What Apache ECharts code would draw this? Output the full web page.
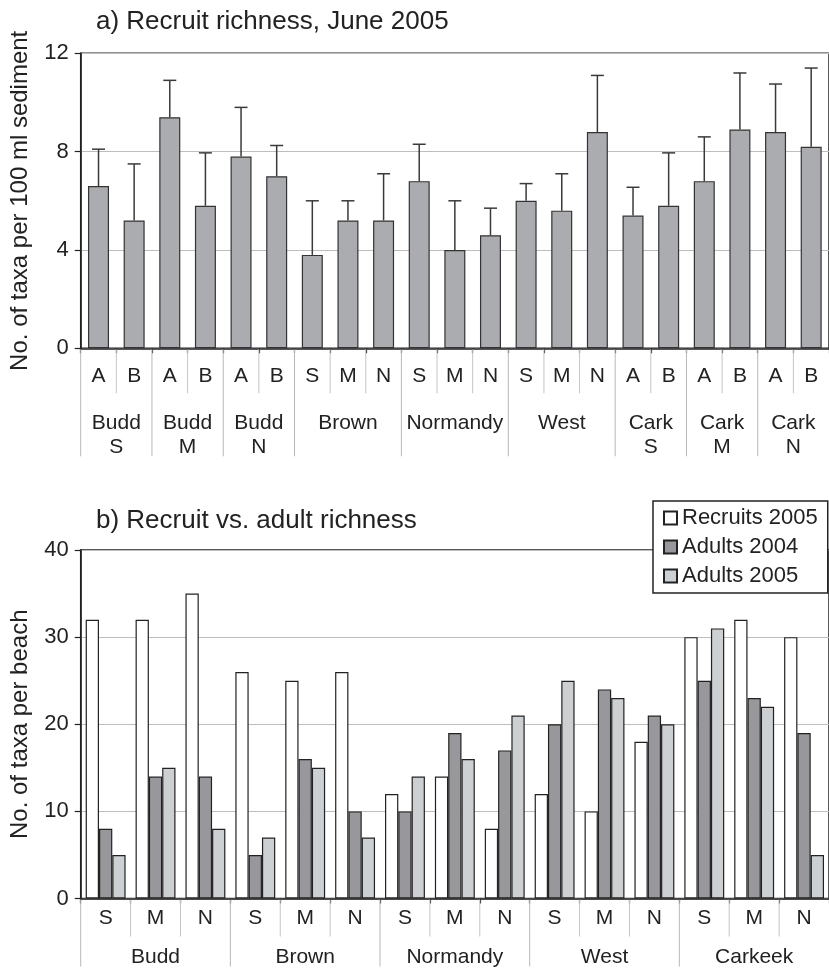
<!DOCTYPE html>
<html>
<head>
<meta charset="utf-8">
<script src="https://cdn.jsdelivr.net/npm/echarts@6/dist/echarts.min.js"></script>
<style>
html,body{margin:0;padding:0;background:#fff;}
#c{width:829px;height:970px;}
</style>
</head>
<body>
<div id="c"></div>
<script>
// ---------- Panel a data ----------
const catsA = ['A','B','A','B','A','B','S','M','N','S','M','N','S','M','N','A','B','A','B','A','B'];
const richnessA = [6.6,5.2,9.4,5.8,7.8,7.0,3.8,5.2,5.2,6.8,4.0,4.6,6.0,5.6,8.8,5.4,5.8,6.8,8.9,8.8,8.2];
const errUpperA = [8.1,7.5,10.9,7.95,9.8,8.25,6.0,6.0,7.1,8.3,6.0,5.7,6.7,7.1,11.1,6.55,7.95,8.6,11.2,10.75,11.4];
const groupLabelsA = ['Budd\nS','Budd\nM','Budd\nN','Brown','Normandy','West','Cark\nS','Cark\nM','Cark\nN'];
const groupSizesA = [2,2,2,3,3,3,2,2,2];
const ticksA = [0,4,8,12];

// ---------- Panel b data ----------
const catsB = ['S','M','N','S','M','N','S','M','N','S','M','N','S','M','N'];
const recruits2005 = [32,32,35,26,25,26,12,14,8,12,10,18,30,32,30];
const adults2004 = [8,14,14,5,16,10,10,19,17,20,24,21,25,23,19];
const adults2005 = [5,15,8,7,15,7,14,16,21,25,23,20,31,22,5];
const groupLabelsB = ['Budd','Brown','Normandy','West','Carkeek'];
const groupSizesB = [3,3,3,3,3];
const ticksB = [0,10,20,30,40];

const FONT = '"Liberation Sans", Arial, Helvetica, sans-serif';
const TXT = '#222';

function groupData(sizes){
  const out = []; let s = 0;
  sizes.forEach(n => { out.push([s, 0, n]); s += n; });
  return out;
}

function makeSeparatorRender(labels, innerLen, outerLen, labelOffset){
  return function(params, api){
    const start = api.value(0), n = api.value(2);
    const bw = api.size([1, 0])[0];
    const p0 = api.coord([start, 0]);
    const y0 = p0[1];
    const children = [];
    const leftX = p0[0] - bw / 2;
    children.push({type:'line', shape:{x1:leftX, y1:y0+1, x2:leftX, y2:y0+outerLen},
      style:{stroke:'#b8b8b8', lineWidth:1}});
    for (let k = 1; k < n; k++){
      const xk = api.coord([start + k, 0])[0] - bw / 2;
      children.push({type:'line', shape:{x1:xk, y1:y0+1, x2:xk, y2:y0+innerLen},
        style:{stroke:'#c4c4c4', lineWidth:1}});
    }
    const cx = (api.coord([start, 0])[0] + api.coord([start + n - 1, 0])[0]) / 2;
    children.push({type:'text', style:{text:labels[params.dataIndex], x:cx, y:y0+labelOffset,
      align:'center', verticalAlign:'top', fontSize:21, lineHeight:24, fontFamily:FONT, fill:TXT}});
    return {type:'group', children};
  };
}

const chart = echarts.init(document.getElementById('c'), null, {renderer:'canvas'});

const yAxisCommon = {
  type:'value', nameLocation:'middle', nameGap:48,
  nameTextStyle:{fontSize:24, fontFamily:FONT, color:TXT},
  axisLine:{show:true, lineStyle:{color:'#222', width:1.5}},
  axisTick:{show:true, inside:false, length:6, lineStyle:{color:'#222', width:1.2}},
  axisLabel:{fontSize:22, fontFamily:FONT, color:TXT, margin:12},
  splitLine:{show:true, lineStyle:{color:'#bdbdbd', width:1.2}}
};

chart.setOption({
  animation:false,
  backgroundColor:'#fff',
  title:[
    {text:'a) Recruit richness, June 2005', left:91, top:4,
     textStyle:{fontSize:26, fontWeight:'normal', fontFamily:FONT, color:TXT}},
    {text:'b) Recruit vs. adult richness', left:91, top:503,
     textStyle:{fontSize:26, fontWeight:'normal', fontFamily:FONT, color:TXT}}
  ],
  legend:{
    show:true, orient:'vertical', left:653, top:501,
    data:['Recruits 2005','Adults 2004','Adults 2005'],
    backgroundColor:'#fff', borderColor:'#222', borderWidth:1.5,
    padding:[6,10,6,10], itemWidth:13, itemHeight:13, itemGap:7,
    icon:'rect',
    textStyle:{fontSize:22, fontFamily:FONT, color:TXT}
  },
  grid:[
    {left:80.7, top:53.3, width:755, height:295, show:true, borderColor:'#222', borderWidth:1.5, backgroundColor:'transparent'},
    {left:80.7, top:550, width:754, height:348.5, show:true, borderColor:'#222', borderWidth:1.5, backgroundColor:'transparent'}
  ],
  xAxis:[
    {type:'category', gridIndex:0, data:catsA,
     axisLine:{show:true, lineStyle:{color:'#222', width:1.5}},
     axisTick:{show:true, interval:0, length:5, lineStyle:{color:'#222', width:1.2}},
     axisLabel:{interval:0, fontSize:21, fontFamily:FONT, color:TXT, margin:17}},
    {type:'category', gridIndex:1, data:catsB,
     axisLine:{show:true, lineStyle:{color:'#222', width:1.5}},
     axisTick:{show:true, interval:0, length:5, lineStyle:{color:'#222', width:1.2}},
     axisLabel:{interval:0, fontSize:21, fontFamily:FONT, color:TXT, margin:9}}
  ],
  yAxis:[
    Object.assign({}, yAxisCommon, {gridIndex:0, min:ticksA[0], max:ticksA[ticksA.length-1], interval:4,
      name:'No. of taxa per 100 ml sediment'}),
    Object.assign({}, yAxisCommon, {gridIndex:1, min:ticksB[0], max:ticksB[ticksB.length-1], interval:10,
      name:'No. of taxa per beach'})
  ],
  series:[
    {type:'bar', name:'Richness', xAxisIndex:0, yAxisIndex:0, data:richnessA, barWidth:21,
     itemStyle:{color:'#abacaf', borderColor:'#333', borderWidth:1.2}},
    {type:'custom', name:'err', xAxisIndex:0, yAxisIndex:0, clip:false, silent:true, z:3,
     data:richnessA.map((v,i)=>[i, v, errUpperA[i]]),
     encode:{x:0, y:[1,2]},
     renderItem:function(params, api){
       const x = api.value(0);
       const p0 = api.coord([x, api.value(1)]);
       const p1 = api.coord([x, api.value(2)]);
       const st = {stroke:'#3a3a3a', lineWidth:1.5};
       return {type:'group', children:[
         {type:'line', shape:{x1:p0[0], y1:p0[1], x2:p1[0], y2:p1[1]}, style:st},
         {type:'line', shape:{x1:p1[0]-6.5, y1:p1[1], x2:p1[0]+6.5, y2:p1[1]}, style:st}
       ]};
     }},
    {type:'custom', name:'sepA', xAxisIndex:0, yAxisIndex:0, clip:false, silent:true,
     data:groupData(groupSizesA), encode:{x:0, y:1},
     renderItem:makeSeparatorRender(groupLabelsA, 45, 108, 63)},
    {type:'bar', name:'Recruits 2005', xAxisIndex:1, yAxisIndex:1, data:recruits2005,
     barGap:'0%', barCategoryGap:'20%',
     itemStyle:{color:'#ffffff', borderColor:'#222', borderWidth:1.2}},
    {type:'bar', name:'Adults 2004', xAxisIndex:1, yAxisIndex:1, data:adults2004,
     barGap:'0%', barCategoryGap:'20%',
     itemStyle:{color:'#98979b', borderColor:'#222', borderWidth:1.2}},
    {type:'bar', name:'Adults 2005', xAxisIndex:1, yAxisIndex:1, data:adults2005,
     barGap:'0%', barCategoryGap:'20%',
     itemStyle:{color:'#cdd0d3', borderColor:'#222', borderWidth:1.2}},
    {type:'custom', name:'sepB', xAxisIndex:1, yAxisIndex:1, clip:false, silent:true,
     data:groupData(groupSizesB), encode:{x:0, y:1},
     renderItem:makeSeparatorRender(groupLabelsB, 38, 68, 47)}
  ]
});
</script>
</body>
</html>
